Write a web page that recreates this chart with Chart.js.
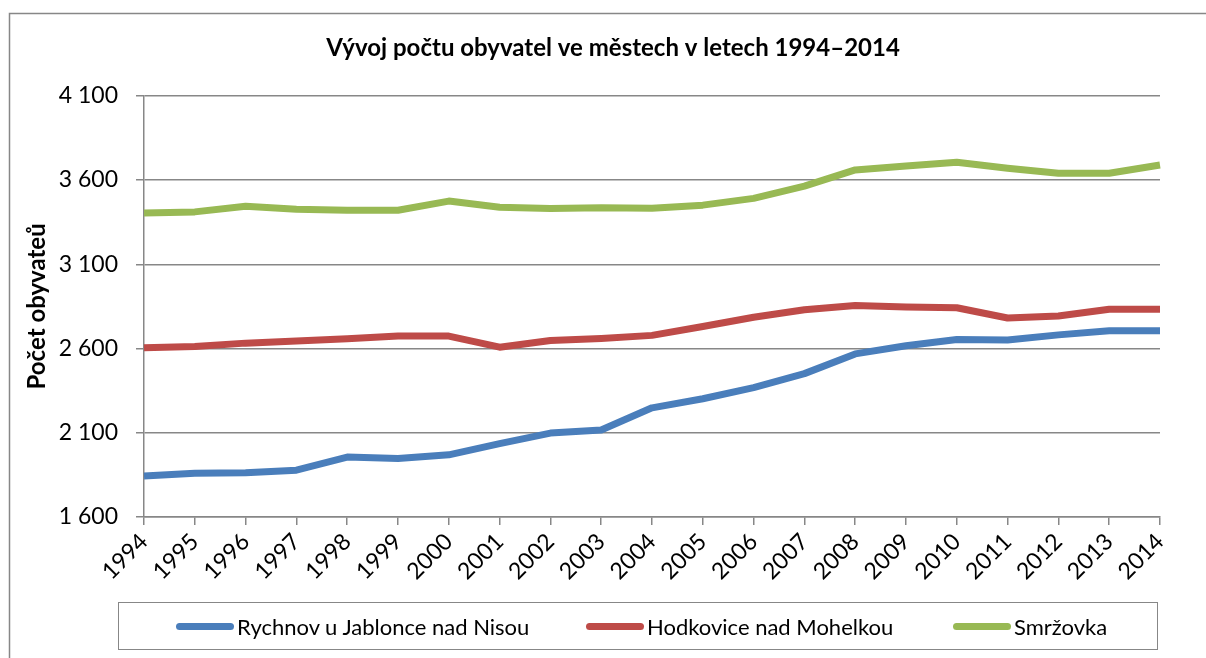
<!DOCTYPE html>
<html lang="cs">
<head>
<meta charset="utf-8">
<title>Vývoj počtu obyvatel</title>
<script src="https://cdn.jsdelivr.net/npm/chart.js@4/dist/chart.umd.min.js"></script>
<style>
  body { margin: 0; background: #fff; }
  #wrap { position: relative; width: 1206px; height: 658px; overflow: hidden; }
  #legend {
    position: absolute;
    left: 118px;
    top: 602px;
    width: 1038px;
    height: 46px;
    border: 1.5px solid #878787;
    display: flex;
    align-items: center;
    font-family: Lato, sans-serif;
    font-size: 22px;
    color: #000;
  }
  .item { position: absolute; display: flex; align-items: center; }
  .swatch { width: 58px; height: 7px; border-radius: 4px; margin-right: 3px; }
</style>
</head>
<body>
<div id="wrap">
  <canvas id="chart" width="1206" height="658"></canvas>
  <div id="legend"></div>
</div>
<script>
const years = ["1994", "1995", "1996", "1997", "1998", "1999", "2000", "2001", "2002", "2003", "2004",
  "2005", "2006", "2007", "2008", "2009", "2010", "2011", "2012", "2013", "2014"];

const rychnov = [1844, 1860, 1862, 1878, 1956, 1947, 1969, 2036, 2098, 2116, 2248,
  2302, 2368, 2451, 2568, 2616, 2654, 2651, 2681, 2705, 2705];
const hodkovice = [2604, 2612, 2632, 2644, 2658, 2674, 2674, 2608, 2648, 2660, 2678,
  2731, 2786, 2830, 2856, 2846, 2842, 2781, 2793, 2833, 2833];
const smrzovka = [3404, 3411, 3445, 3426, 3420, 3421, 3475, 3439, 3431, 3435, 3432,
  3451, 3491, 3564, 3660, 3683, 3705, 3670, 3640, 3640, 3689];

const seriesNames = ["Rychnov u Jablonce nad Nisou", "Hodkovice nad Mohelkou", "Smržovka"];
const seriesColors = ["#4A7EBB", "#BE4B48", "#98B954"];
const legendX = [57, 467, 834]; // posun položek legendy v rámečku

const GRID = "#878787";

function formatThousands(v) {
  return String(v).replace(/\B(?=(\d{3})+(?!\d))/g, " ");
}

// rámeček kolem celého grafu + vycentrování nadpisu
const framePlugin = {
  id: "frame",
  afterLayout(chart) {
    chart.titleBlock.left = 20;
    chart.titleBlock.right = 1206;
  },
  beforeDraw(chart) {
    const ctx = chart.ctx;
    ctx.save();
    ctx.strokeStyle = GRID;
    ctx.lineWidth = 1.5;
    ctx.strokeRect(9.5, 13.5, 1230, 700);
    ctx.restore();
  }
};

Chart.defaults.font.family = "Lato, sans-serif";
Chart.defaults.color = "#000";

const chart = new Chart(document.getElementById("chart"), {
  type: "line",
  data: {
    labels: years,
    datasets: [rychnov, hodkovice, smrzovka].map((values, i) => ({
      label: seriesNames[i],
      data: values,
      borderColor: seriesColors[i],
      backgroundColor: seriesColors[i],
      borderWidth: 7,
      pointRadius: 0,
      tension: 0,
      borderCapStyle: "butt",
      borderJoinStyle: "round"
    }))
  },
  options: {
    responsive: false,
    animation: false,
    layout: { padding: { left: 14, right: 46, top: 10, bottom: 58 } },
    plugins: {
      legend: { display: false },
      tooltip: { enabled: false },
      title: {
        display: true,
        text: "Vývoj počtu obyvatel ve městech v letech 1994–2014",
        font: { size: 24, weight: "bold" },
        padding: { top: 24, bottom: 33 }
      }
    },
    scales: {
      x: {
        offset: false,
        afterFit(scale) { scale.height = 83; },
        border: { color: GRID, width: 1.5 },
        grid: { drawOnChartArea: false, drawTicks: true, tickLength: 8, color: GRID, lineWidth: 1.5 },
        ticks: { font: { size: 23 }, maxRotation: 45, minRotation: 45, autoSkip: false, padding: 3 }
      },
      y: {
        min: 1600,
        max: 4100,
        afterFit(scale) { scale.width = 130; },
        border: { color: GRID, width: 1.5 },
        grid: { color: GRID, lineWidth: 1.5, tickLength: 8 },
        ticks: {
          stepSize: 500,
          font: { size: 23 },
          padding: 18,
          callback: v => formatThousands(v)
        },
        title: {
          display: true,
          text: "Počet obyvateů",
          font: { size: 24, weight: "bold" },
          padding: { top: 9, bottom: 0 }
        }
      }
    }
  },
  plugins: [framePlugin]
});

function buildLegend() {
  const legendEl = document.getElementById("legend");
  chart.data.datasets.forEach((ds, i) => {
    const item = document.createElement("div");
    item.className = "item";
    item.style.left = legendX[i] + "px";
    const swatch = document.createElement("span");
    swatch.className = "swatch";
    swatch.style.background = ds.borderColor;
    const label = document.createElement("span");
    label.textContent = ds.label;
    item.appendChild(swatch);
    item.appendChild(label);
    legendEl.appendChild(item);
  });
}

buildLegend();
</script>
</body>
</html>
